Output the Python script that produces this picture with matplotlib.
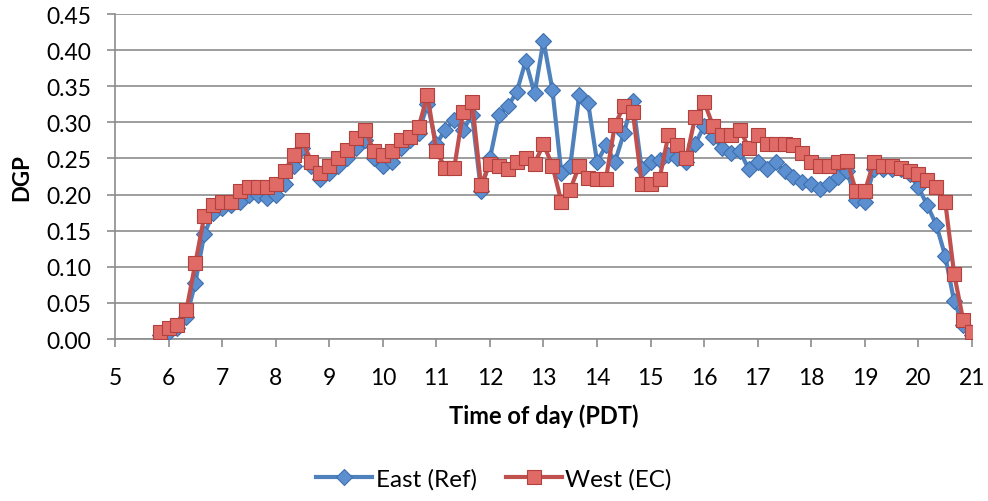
import numpy as np
import matplotlib.pyplot as plt

## Data (10 minute steps, 5:50 to 21:00) ##
t_start = 5 + 50/60
east = [0.005, 0.010, 0.015, 0.030, 0.078, 0.145, 0.175, 0.182, 0.185, 0.190,
        0.200, 0.200, 0.195, 0.200, 0.215, 0.240, 0.265, 0.240, 0.222, 0.230,
        0.240, 0.250, 0.265, 0.275, 0.250, 0.240, 0.245, 0.265, 0.275, 0.285,
        0.325, 0.270, 0.290, 0.303, 0.290, 0.310, 0.205, 0.250, 0.310, 0.322,
        0.342, 0.385, 0.340, 0.413, 0.345, 0.230, 0.240, 0.338, 0.327, 0.245,
        0.268, 0.245, 0.285, 0.330, 0.235, 0.245, 0.248, 0.255, 0.250, 0.245,
        0.270, 0.295, 0.280, 0.265, 0.258, 0.260, 0.235, 0.245, 0.235, 0.245,
        0.232, 0.225, 0.218, 0.215, 0.208, 0.215, 0.225, 0.232, 0.193, 0.190,
        0.235, 0.235, 0.235, 0.235, 0.228, 0.210, 0.185, 0.158, 0.115, 0.052,
        0.020, 0.005]
west = [0.010, 0.015, 0.020, 0.040, 0.105, 0.170, 0.185, 0.190, 0.190, 0.205,
        0.210, 0.210, 0.210, 0.215, 0.232, 0.255, 0.275, 0.245, 0.230, 0.240,
        0.250, 0.262, 0.278, 0.290, 0.260, 0.255, 0.260, 0.275, 0.280, 0.293,
        0.338, 0.260, 0.237, 0.237, 0.315, 0.328, 0.213, 0.243, 0.240, 0.235,
        0.245, 0.250, 0.243, 0.270, 0.240, 0.190, 0.207, 0.240, 0.223, 0.222,
        0.222, 0.297, 0.322, 0.315, 0.215, 0.215, 0.222, 0.283, 0.268, 0.250,
        0.308, 0.328, 0.295, 0.282, 0.282, 0.290, 0.265, 0.282, 0.270, 0.270,
        0.270, 0.268, 0.258, 0.245, 0.240, 0.240, 0.245, 0.247, 0.205, 0.205,
        0.245, 0.240, 0.240, 0.237, 0.232, 0.228, 0.220, 0.210, 0.190, 0.090,
        0.027, 0.010]
hours = t_start + np.arange(len(east)) / 6

plt.rcParams['font.family'] = ['Lato', 'DejaVu Sans']

fig = plt.figure(figsize=(9.88, 5.02), dpi=100)
ax = fig.add_axes([0.1164, 0.3227, 0.8674, 0.6473])

ax.plot(hours, east, color='#4F81BD', lw=3, marker='D', ms=8,
        mfc='#5B8FD0', mec='#3F6FAE', mew=0.8, label='East (Ref)', zorder=3)
ax.plot(hours, west, color='#C0504D', lw=3, marker='s', ms=10,
        mfc='#E06A66', mec='#B0413E', mew=0.8, label='West (EC)', zorder=4)

ax.set_xlim(5, 21)
ax.set_ylim(0, 0.45)
ax.set_xticks(range(5, 22))
ax.set_yticks(np.arange(0, 0.451, 0.05))
ax.set_yticklabels(['%.2f' % v for v in np.arange(0, 0.451, 0.05)])
ax.grid(axis='y', color='#8C8C8C', lw=1.2)
ax.set_axisbelow(True)

for s in ['top', 'right']:
    ax.spines[s].set_visible(False)
ax.spines['left'].set_color('#8C8C8C')
ax.spines['bottom'].set_color('#8C8C8C')
ax.spines['left'].set_linewidth(1.2)
ax.spines['bottom'].set_linewidth(1.2)
ax.tick_params(axis='both', labelsize=16.5, color='#8C8C8C', width=1.2, length=6)
ax.tick_params(axis='y', pad=11)
ax.tick_params(axis='x', pad=14)

ax.set_xlabel('Time of day (PDT)', fontsize=17, fontweight='bold', labelpad=11)
ax.set_ylabel('DGP', fontsize=16, fontweight='bold', labelpad=10)

fig.legend(loc='lower center', bbox_to_anchor=(0.5, -0.02), ncol=2, frameon=False,
           fontsize=17.5, handlelength=2.3, handletextpad=0.15, columnspacing=1.2)

plt.savefig('out.png', dpi=100)
